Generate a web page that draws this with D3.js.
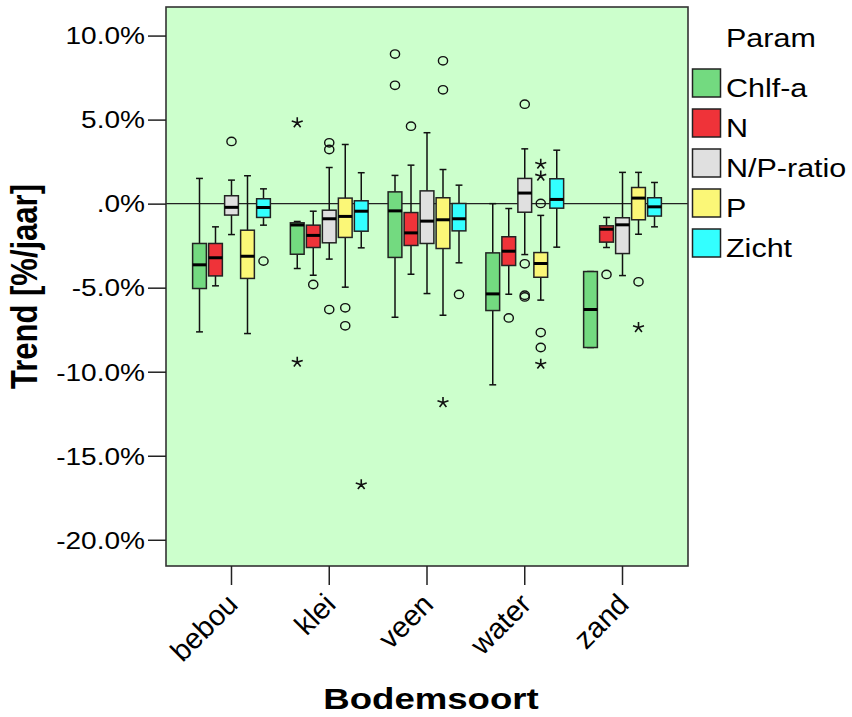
<!DOCTYPE html>
<html><head><meta charset="utf-8">
<script src="https://cdn.jsdelivr.net/npm/d3@7"></script>
<style>body{margin:0;background:#fff}</style>
</head><body><svg id="c" width="852" height="717"></svg>
<script>
const categories = ["bebou","klei","veen","water","zand"];
const params = ["Chlf-a","N","N/P-ratio","P","Zicht"];
const colors = ["#73da80","#ef3339","#e0e0e0","#fbf777","#33ffff"];
const yTicks = [10,5,0,-5,-10,-15,-20];
// per category: [lower whisker, Q1, median, Q3, upper whisker]  (% per jaar)
const chlfa = [[-7.63,-5.05,-3.64,-2.37,1.50],[-3.86,-3.01,-1.27,-1.14,-1.06],[-6.76,-3.20,-0.43,0.70,1.68],[-10.78,-6.36,-5.37,-2.93,0.0],[-8.56,-8.56,-6.30,-4.04,-4.04]];
const nVals  = [[-4.89,-4.30,-3.22,-2.37,-1.38],[-4.26,-2.61,-1.89,-1.28,-0.45],[-4.20,-2.49,-1.74,-0.53,2.29],[-5.39,-3.68,-2.83,-1.97,-0.29],[-2.61,-2.29,-1.52,-1.32,-0.82]];
const npRatio= [[-1.84,-0.68,-0.22,0.47,1.40],[-3.30,-2.33,-0.90,-0.39,2.15],[-5.35,-2.37,-1.04,0.76,4.22],[-3.03,-0.51,0.63,1.50,3.26],[-4.28,-2.97,-1.26,-0.84,1.86]];
const pVals  = [[-7.73,-4.45,-3.13,-1.58,1.66],[-4.97,-2.01,-0.76,0.33,3.52],[-6.64,-2.67,-0.96,0.35,2.03],[-5.74,-4.38,-3.56,-2.91,-0.70],[-1.82,-0.96,0.33,0.96,1.86]];
const zicht  = [[-1.28,-0.82,-0.23,0.29,0.88],[-2.63,-1.64,-0.45,0.17,1.84],[-3.52,-1.62,-0.90,0.01,1.10],[-2.59,-0.27,0.25,1.48,3.18],[-1.38,-0.74,-0.19,0.35,1.26]];
// outliers: [category, param, value, type]  o = circle, * = extreme
const outliers = [
  ["bebou","N/P-ratio",3.70,"o"],["bebou","Zicht",-3.42,"o"],
  ["klei","Chlf-a",4.81,"*"],["klei","Chlf-a",-9.43,"*"],["klei","N",-4.81,"o"],
  ["klei","N/P-ratio",3.62,"o"],["klei","N/P-ratio",3.22,"o"],["klei","N/P-ratio",-6.30,"o"],
  ["klei","P",-6.20,"o"],["klei","P",-7.27,"o"],["klei","Zicht",-16.72,"*"],
  ["veen","Chlf-a",8.90,"o"],["veen","Chlf-a",7.04,"o"],["veen","N",4.61,"o"],
  ["veen","P",8.50,"o"],["veen","P",6.77,"o"],["veen","P",-11.83,"*"],["veen","Zicht",-5.40,"o"],
  ["water","N",-6.80,"o"],["water","N/P-ratio",5.92,"o"],["water","N/P-ratio",-3.58,"o"],
  ["water","N/P-ratio",-5.45,"o"],["water","N/P-ratio",-5.55,"o"],
  ["water","P",2.35,"*"],["water","P",1.64,"*"],["water","P",0.01,"o"],["water","P",-7.67,"o"],
  ["water","P",-8.56,"o"],["water","P",-9.55,"*"],
  ["zand","N",-4.21,"o"],["zand","P",-4.65,"o"],["zand","P",-7.37,"*"]
];
const seriesData = [chlfa, nVals, npRatio, pVals, zicht];

const SX = 1.22; // horizontal text stretch
const FONT = "'Liberation Sans', Arial, Helvetica, sans-serif";
const svg = d3.select("#c");
const L=166, R=688, T=7, B=566;
const x = d3.scalePoint().domain(categories).range([L,R]).padding(0.67);
const off = d3.scaleBand().domain(params).range([-40,40]).paddingInner(0.14).paddingOuter(0.07);
const bw = off.bandwidth();
const y = d3.scaleLinear().domain([-21.56, 11.70]).range([B,T]);
const color = d3.scaleOrdinal().domain(params).range(colors);
const cxOf = (c,p) => x(c) + off(p) + bw/2;

svg.append("rect").attr("x",L).attr("y",T).attr("width",R-L).attr("height",B-T).attr("fill","#ccffcc");
svg.append("line").attr("x1",L).attr("x2",R).attr("y1",y(0)).attr("y2",y(0)).attr("stroke","#222").attr("stroke-width",1.2);

const gB = svg.append("g");
params.forEach((p,i) => {
  categories.forEach((c,j) => {
    const [lo,q1,md,q3,hi] = seriesData[i][j];
    const cx = cxOf(c,p);
    const g = gB.append("g");
    g.append("line").attr("x1",cx).attr("x2",cx).attr("y1",y(hi)).attr("y2",y(lo)).attr("stroke","#111").attr("stroke-width",1.5);
    [lo,hi].forEach(v => g.append("line").attr("x1",cx-bw/4).attr("x2",cx+bw/4).attr("y1",y(v)).attr("y2",y(v)).attr("stroke","#111").attr("stroke-width",1.5));
    g.append("rect").attr("x",cx-bw/2).attr("width",bw).attr("y",y(q3)).attr("height",y(q1)-y(q3))
      .attr("fill",color(p)).attr("stroke","#222").attr("stroke-width",1.5);
    g.append("line").attr("x1",cx-bw/2).attr("x2",cx+bw/2).attr("y1",y(md)).attr("y2",y(md)).attr("stroke","#000").attr("stroke-width",3);
  });
});

const gO = svg.append("g");
outliers.forEach(([c,p,v,t]) => {
  const cx = cxOf(c,p), cy = y(v);
  if (t === "o") {
    gO.append("ellipse").attr("cx",cx).attr("cy",cy).attr("rx",4.6).attr("ry",4.2)
      .attr("fill","none").attr("stroke","#111").attr("stroke-width",1.4);
  } else {
    const path = d3.path();
    for (let k=0;k<5;k++){
      const a = -Math.PI/2 + k*2*Math.PI/5;
      path.moveTo(cx,cy); path.lineTo(cx+5.5*Math.cos(a)*1.05, cy+5.5*Math.sin(a));
    }
    gO.append("path").attr("d",path.toString()).attr("stroke","#111").attr("stroke-width",1.6).attr("fill","none");
  }
});

svg.append("rect").attr("x",L).attr("y",T).attr("width",R-L).attr("height",B-T).attr("fill","none").attr("stroke","#333").attr("stroke-width",1.6);

// Y axis
const fmt = v => v === 0 ? ".0%" : v.toFixed(1) + "%";
const gy = svg.append("g").attr("transform",`translate(${L},0)`)
  .call(d3.axisLeft(y).tickValues(yTicks).tickSize(18).tickPadding(3).tickFormat(fmt));
gy.select(".domain").remove();
gy.selectAll(".tick line").attr("stroke","#222").attr("stroke-width",1.5);
gy.selectAll(".tick text").attr("x",0).attr("transform",`translate(-21,0) scale(${SX},1)`)
  .attr("font-size",23).attr("font-family",FONT).attr("fill","#000").attr("dy","0.36em");

// X axis
const gx = svg.append("g");
categories.forEach(c => {
  gx.append("line").attr("x1",x(c)).attr("x2",x(c)).attr("y1",B).attr("y2",B+19).attr("stroke","#222").attr("stroke-width",1.5);
  gx.append("text").text(c).attr("text-anchor","end").attr("font-size",29).attr("font-family",FONT)
    .attr("transform",`translate(${x(c)+8},606) rotate(-45)`);
});

// Titles
svg.append("text").text("Bodemsoort").attr("text-anchor","middle").attr("font-weight","bold")
  .attr("font-size",30).attr("font-family",FONT)
  .attr("transform",`translate(${(L+R)/2 + 4},709) scale(${SX},1)`);
svg.append("text").text("Trend [%/jaar]").attr("text-anchor","middle").attr("font-weight","bold")
  .attr("font-size",31).attr("font-family",FONT)
  .attr("transform",`translate(37,${(T+B)/2}) scale(${SX},1) rotate(-90)`);

// Legend
const lg = svg.append("g");
lg.append("text").text("Param").attr("font-size",25).attr("font-family",FONT)
  .attr("transform",`translate(726,47) scale(${SX},1)`);
params.forEach((p,i) => {
  const yy = 69 + i*40;
  lg.append("rect").attr("x",692.5).attr("y",yy).attr("width",28).attr("height",28)
    .attr("fill",color(p)).attr("stroke","#222").attr("stroke-width",1.5);
  lg.append("text").text(p).attr("font-size",25).attr("font-family",FONT)
    .attr("transform",`translate(726,${yy+28}) scale(${SX},1)`);
});
</script></body></html>
